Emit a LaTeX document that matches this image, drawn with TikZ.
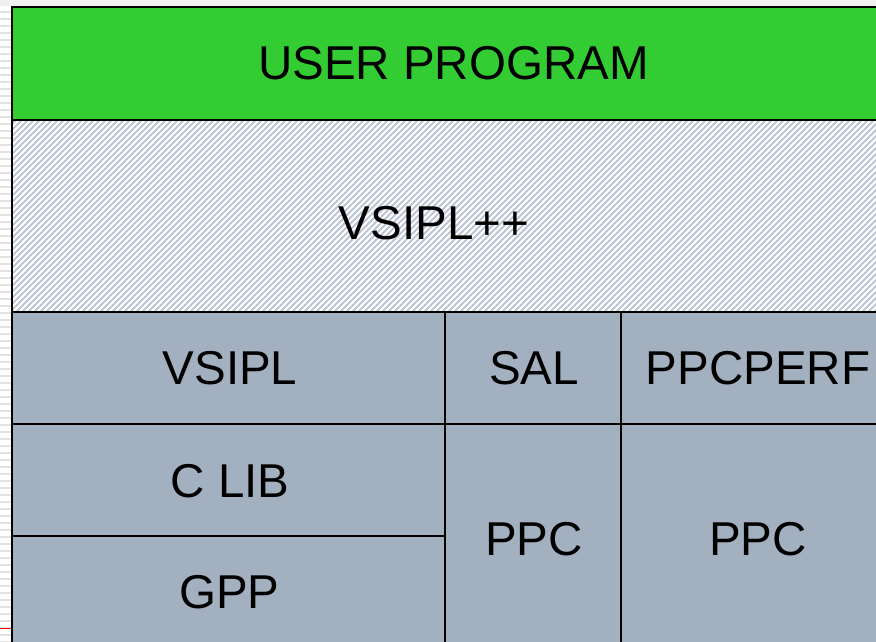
\documentclass[tikz,border=0pt]{standalone}
\usepackage{fontspec}
\setmainfont{Liberation Sans}
\definecolor{usergreen}{RGB}{51,204,51}
\definecolor{cellgray}{RGB}{163,176,191}
\definecolor{hatchcol}{RGB}{188,199,214}
\definecolor{marginline}{RGB}{226,226,226}
\begin{document}
\begin{tikzpicture}[x=1pt,y=-1pt,
  lbl/.style={font=\fontsize{47.5}{50}\selectfont, inner sep=0pt, anchor=center},
  edge/.style={draw=black, line width=2pt}]
\useasboundingbox (0,0) rectangle (876,642);
\clip (0,0) rectangle (876,642);
% page background and margins
\fill[white] (0,0) rectangle (876,642);
\fill[gray!12] (0,0) rectangle (876,6);
\foreach \yy in {12,19,...,642} {
  \draw[marginline, line width=2pt] (0,\yy) -- (12,\yy);
}
\draw[red, line width=1pt] (0,628) -- (12,628);
% green band
\fill[usergreen] (12,7) rectangle (900,120);
% hatched band
\begin{scope}
  \clip (12,120) rectangle (900,312);
  \fill[white] (12,120) rectangle (900,312);
  \foreach \xx in {-200,-194,...,900} {
    \draw[hatchcol, line width=1.8pt] (\xx,312) -- ++(192,-192);
  }
\end{scope}
% gray cells
\fill[cellgray] (12,312) rectangle (900,660);
% lines
\draw[edge] (900,7) -- (12,7) -- (12,660);
\draw[edge] (12,120) -- (900,120);
\draw[edge] (12,312) -- (900,312);
\draw[edge] (12,424) -- (900,424);
\draw[edge] (12,536) -- (445,536);
\draw[edge] (445,312) -- (445,660);
\draw[edge] (621,312) -- (621,660);
% labels
\node[lbl] (user) at (453.5,63.5) {USER PROGRAM};
\node[lbl] (vsiplpp) at (434,223) {VSIPL++};
\node[lbl] (vsipl) at (230,368) {VSIPL};
\node[lbl] (sal) at (534,368) {SAL};
\node[lbl] (ppcperf) at (758,368) {PPCPERF};
\node[lbl] (clib) at (230,481) {C LIB};
\node[lbl] (gpp) at (229.5,592.5) {GPP};
\node[lbl] (ppca) at (534,539) {PPC};
\node[lbl] (ppcb) at (758,539) {PPC};
\end{tikzpicture}
\end{document}
